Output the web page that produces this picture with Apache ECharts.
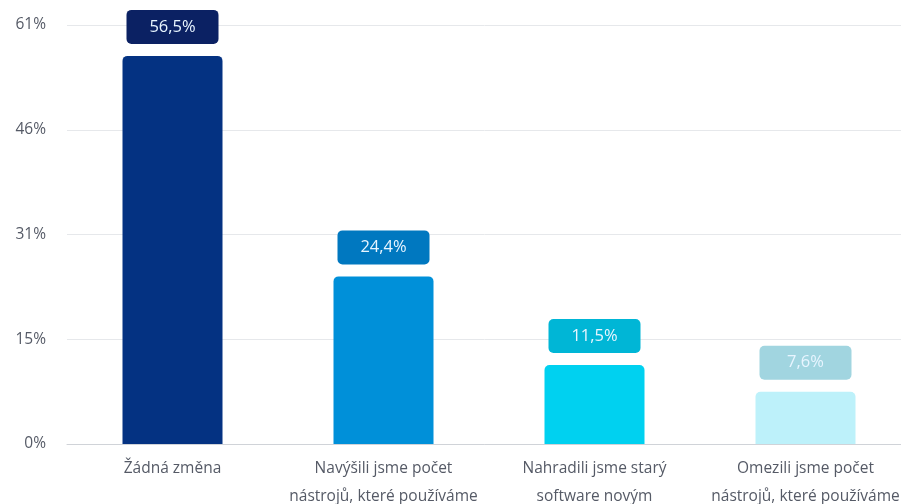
<!DOCTYPE html>
<html>
<head>
<meta charset="utf-8">
<script src="https://cdn.jsdelivr.net/npm/echarts@6/dist/echarts.min.js"></script>
<style>html,body{margin:0;padding:0;background:#fff}#c{width:901px;height:504px}</style>
</head>
<body>
<div id="c"></div>
<script>
var categories = ['Žádná změna', 'Navýšili jsme počet\nnástrojů, které používáme', 'Nahradili jsme starý\nsoftware novým', 'Omezili jsme počet\nnástrojů, které používáme'];
var values = [56.5, 24.4, 11.5, 7.6];
var barColors = ['#043282', '#0090d9', '#00d1f0', '#bdf1fa'];
var labelColors = ['#0b2163', '#0078c0', '#00b6d6', '#a1d5e0'];
var yTickLabels = ['0%', '15%', '31%', '46%', '61%'];

var chart = echarts.init(document.getElementById('c'));
chart.setOption({
  animation: false,
  grid: { left: 67, top: 25, width: 844, height: 419, containLabel: false, outerBoundsMode: 'none' },
  xAxis: {
    type: 'category',
    data: categories,
    axisTick: { show: false },
    axisLine: { lineStyle: { color: '#d0d3d8', width: 1 } },
    axisLabel: { color: '#555a66', fontSize: 15.5, fontFamily: 'Open Sans', lineHeight: 28, margin: 11, interval: 0 }
  },
  yAxis: {
    type: 'value',
    min: 0, max: 61, interval: 15.25,
    axisLine: { show: false },
    axisTick: { show: false },
    splitLine: { lineStyle: { color: '#e6e8eb' } },
    axisLabel: {
      color: '#555a66', fontSize: 15.5, fontFamily: 'Open Sans', margin: 21,
      formatter: function (v) { return yTickLabels[Math.round(v / 15.25)]; }
    }
  },
  series: [{
    type: 'bar',
    barWidth: 100,
    data: values.map(function (v, i) {
      return {
        value: v,
        itemStyle: { color: barColors[i], borderRadius: [5, 5, 0, 0] },
        label: { backgroundColor: labelColors[i] }
      };
    }),
    label: {
      show: true,
      position: 'top',
      distance: 12,
      formatter: function (p) { return String(p.value).replace('.', ',') + '%'; },
      color: '#e8f5ff',
      fontSize: 16.5,
      fontFamily: 'Open Sans',
      width: 92,
      height: 34,
      lineHeight: 34,
      align: 'center',
      borderRadius: 5
    }
  }]
});
</script>
</body>
</html>
